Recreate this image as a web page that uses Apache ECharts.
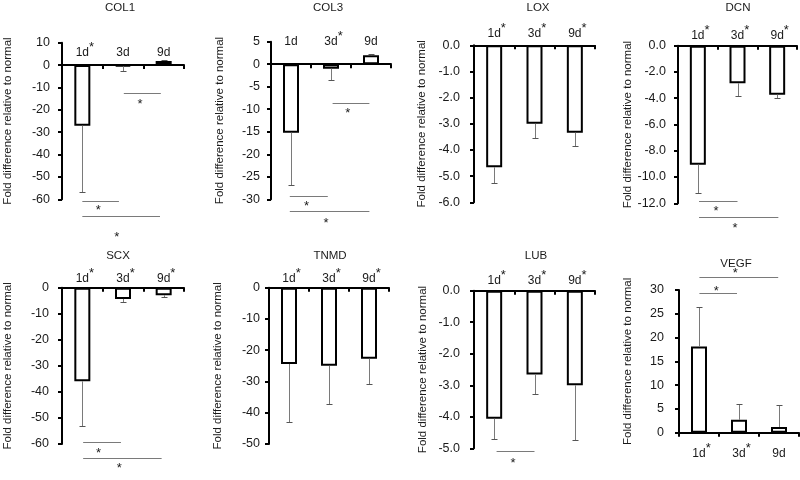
<!DOCTYPE html>
<html><head><meta charset="utf-8">
<script src="https://cdn.jsdelivr.net/npm/echarts@6/dist/echarts.min.js"></script>
<style>html,body{margin:0;padding:0;background:#fff}#c{width:800px;height:480px}</style>
</head><body><div id="c"></div>
<script>
const categories = ['1d', '3d', '9d'];
const genes = ['COL1', 'COL3', 'LOX', 'DCN', 'SCX', 'TNMD', 'LUB', 'VEGF'];
const yAxisName = 'Fold difference relative to normal';

// mean fold difference per time point
const col1Mean = [-27.1, -0.6, 1.8];
const col3Mean = [-15.2, -1.0, 2.0];
const loxMean = [-4.66, -3.0, -3.34];
const dcnMean = [-9.06, -2.86, -3.73];
const scxMean = [-35.9, -4.3, -2.9];
const tnmdMean = [-24.4, -25.0, -22.7];
const lubMean = [-4.06, -2.66, -3.0];
const vegfMean = [18.1, 2.7, 1.2];

// error bar (SD) per time point
const col1Err = [29.5, 2.1, 0.3];
const col3Err = [11.7, 2.4, 0.3];
const loxErr = [0.59, 0.54, 0.51];
const dcnErr = [2.18, 0.99, 0.25];
const scxErr = [17.2, 1.2, 0.8];
const tnmdErr = [18.5, 12.3, 8.2];
const lubErr = [0.65, 0.62, 1.75];
const vegfErr = [8.4, 3.4, 4.6];

// significance star on category label (vs normal)
const col1Star = [1, 0, 0];
const col3Star = [0, 1, 0];
const loxStar = [1, 1, 1];
const dcnStar = [1, 1, 1];
const scxStar = [1, 1, 1];
const tnmdStar = [1, 1, 1];
const lubStar = [1, 1, 1];
const vegfStar = [1, 1, 0];

// between-group brackets: [y value, from category, to category, star category, star y value]
const col1Sig = [[-12.5, 1.02, 1.93, 1.42, -16.1], [-60.7, 0, 0.9, 0.39, -63.6], [-67.3, 0, 1.91, 0.85, -75.8]];
const col3Sig = [[-8.6, 1.04, 1.96, 1.42, -10.2], [-29.25, -0.03, 0.92, 0.39, -30.9], [-32.5, -0.03, 1.96, 0.875, -34.8]];
const loxSig = [];
const dcnSig = [[-11.83, 0.03, 1.0, 0.46, -12.38], [-13.02, 0.03, 2.03, 0.94, -13.66]];
const scxSig = [[-59.35, 0.02, 0.95, 0.4, -62.3], [-65.4, 0.02, 1.95, 0.91, -68.2]];
const tnmdSig = [];
const lubSig = [[-5.09, 0.06, 1.0, 0.47, -5.37]];
const vegfSig = [[29.3, 0.01, 0.95, 0.43, 30.36], [32.67, 0.01, 1.98, 0.91, 34.2]];

// y axis ticks
const yMin = [-60, -30, -6, -12, -60, -50, -5, 0];
const yMax = [10, 5, 0, 0, 0, 0, 0, 30];
const yStep = [10, 5, 1, 2, 10, 10, 1, 5];
const yDecimals = [0, 0, 1, 1, 0, 0, 1, 0];

const means = [col1Mean, col3Mean, loxMean, dcnMean, scxMean, tnmdMean, lubMean, vegfMean];
const errs = [col1Err, col3Err, loxErr, dcnErr, scxErr, tnmdErr, lubErr, vegfErr];
const stars = [col1Star, col3Star, loxStar, dcnStar, scxStar, tnmdStar, lubStar, vegfStar];
const sigs = [col1Sig, col3Sig, loxSig, dcnSig, scxSig, tnmdSig, lubSig, vegfSig];

// layout (pixels)
const gridBox = [
  [62, 42.7, 122, 156.6], [271, 41.7, 120, 157.6], [474, 45.3, 121, 157], [678, 45.7, 119, 157.6],
  [62, 287.7, 122, 156.3], [269, 287.7, 120, 156.3], [474, 290.7, 121, 157.6], [679, 290, 120, 142.7]
];
const titlePos = [[120, 8], [328, 7.5], [538, 8], [738, 8], [118, 256], [330, 256], [536, 256], [736, 264]];
const nameGaps = [48, 45, 46, 44, 48, 45, 45, 45];
const yLabelMargin = [12, 11, 14, 12, 13, 9, 14, 15];
const xLabelMargin = [-21, -11, 0, -1, -2, -2, -1, 9];

const FONT = '"Liberation Sans", Arial, sans-serif';
const TXT = '#1a1a1a';

const chart = echarts.init(document.getElementById('c'), null, { renderer: 'canvas' });

const grid = [], xAxis = [], yAxis = [], series = [], graphic = [];

function errRender(params, api) {
  const i = api.value(0), m = api.value(1), sd = api.value(2);
  const end = m >= 0 ? m + sd : m - sd;
  const p0 = api.coord([i, m]);
  const p1 = api.coord([i, end]);
  const x = Math.round(p0[0]) + 0.5;
  const y1 = Math.round(p1[1]) + 0.5;
  return {
    type: 'group', children: [
      { type: 'line', shape: { x1: x, y1: p0[1], x2: x, y2: y1 }, style: { stroke: '#7a7a7a', lineWidth: 1 } },
      { type: 'line', shape: { x1: x - 3, y1: y1, x2: x + 3, y2: y1 }, style: { stroke: '#555', lineWidth: 1 } }
    ]
  };
}

function sigRender(params, api) {
  const y = api.value(1), a = api.value(2), b = api.value(3), sx = api.value(4), sy = api.value(5);
  const c0 = api.coord([0, y]);
  const c1 = api.coord([1, y]);
  const w = c1[0] - c0[0];
  const ly = Math.round(c0[1]) + 0.5;
  const ys = api.coord([0, sy])[1];
  return {
    type: 'group', children: [
      { type: 'line', shape: { x1: c0[0] + a * w, y1: ly, x2: c0[0] + b * w, y2: ly }, style: { stroke: '#7a7a7a', lineWidth: 1 } },
      { type: 'text', x: c0[0] + sx * w, y: ys + 3, style: { text: '*', fontSize: 13, fill: TXT, align: 'center', verticalAlign: 'middle', fontFamily: FONT } }
    ]
  };
}

genes.forEach((g, k) => {
  const [l, t, w, h] = gridBox[k];
  grid.push({ left: l, top: t, width: w, height: h, containLabel: false });
  const isBottom = yMin[k] === 0;
  const st = stars[k];
  xAxis.push({
    type: 'category', gridIndex: k, data: categories, position: isBottom ? 'bottom' : 'top',
    axisLine: { show: true, onZero: true, lineStyle: { color: '#000', width: 2 } },
    axisTick: { show: true, inside: !isBottom, length: 4, lineStyle: { color: '#000', width: 2 } },
    splitLine: { show: false },
    axisLabel: {
      interval: 0, margin: xLabelMargin[k],
      formatter: (v, idx) => '{p|*}{d|' + v + '}' + (st[idx] ? '{s|*}' : '{p|*}'),
      rich: {
        d: { fontSize: 12, color: TXT, fontFamily: FONT },
        s: { fontSize: 13, color: TXT, fontFamily: FONT, padding: [0, 0, 10, 0] },
        p: { fontSize: 13, color: 'transparent', fontFamily: FONT, padding: [0, 0, 10, 0] }
      }
    }
  });
  yAxis.push({
    type: 'value', gridIndex: k, min: yMin[k], max: yMax[k], interval: yStep[k],
    name: yAxisName, nameLocation: 'middle', nameGap: nameGaps[k], nameRotate: 90,
    nameTextStyle: { fontSize: 11.5, color: TXT, fontFamily: FONT },
    axisLine: { show: true, onZero: false, lineStyle: { color: '#000', width: 2 } },
    axisTick: { show: true, inside: false, length: 4, lineStyle: { color: '#000', width: 2 } },
    splitLine: { show: false },
    axisLabel: {
      margin: yLabelMargin[k], fontSize: 12.5, color: TXT, fontFamily: FONT,
      formatter: v => v.toFixed(yDecimals[k])
    }
  });
  series.push({
    type: 'bar', xAxisIndex: k, yAxisIndex: k, data: means[k], barWidth: 16,
    itemStyle: { color: '#fff', borderColor: '#000', borderWidth: 2 }, z: 2
  });
  series.push({
    type: 'custom', xAxisIndex: k, yAxisIndex: k, renderItem: errRender, z: 3,
    encode: { x: 0, y: 1 },
    data: means[k].map((m, i) => [i, m, errs[k][i]])
  });
  if (sigs[k].length) {
    series.push({
      type: 'custom', xAxisIndex: k, yAxisIndex: k, renderItem: sigRender, z: 3, clip: false,
      encode: { x: 0, y: 1 },
      data: sigs[k].map(s => [0, s[0], s[1], s[2], s[3], s[4]])
    });
  }
  graphic.push({
    type: 'text', x: titlePos[k][0], y: titlePos[k][1],
    style: { text: g, fontSize: 11.5, fill: TXT, fontFamily: FONT, align: 'center', verticalAlign: 'middle' }
  });
});

chart.setOption({
  animation: false,
  backgroundColor: '#fff',
  textStyle: { fontFamily: FONT },
  grid, xAxis, yAxis, series, graphic
});
</script>
</body></html>
